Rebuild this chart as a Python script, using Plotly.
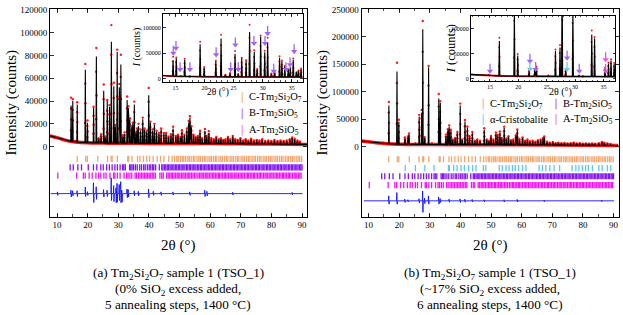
import numpy as np
import plotly.graph_objects as go

W, H = 623, 315
FONT = "Liberation Serif"

# ---------------- Panel (a): 0 % SiO2 excess ----------------
a_bg_x = [7.7, 10, 12, 14, 16, 20, 25, 30, 40, 50, 60, 70, 80, 91.6]
a_bg_y = [9500, 8000, 6300, 4900, 4200, 3500, 3200, 3000, 2900, 2800, 2700, 2500, 2300, 2000]
a_peak_x = [14.60, 15.15, 15.90, 16.60, 17.50, 19.25, 19.95, 21.95, 22.85, 23.60, 24.40, 25.25, 25.80,
            26.40, 27.15, 27.75, 28.55, 29.05, 29.65, 30.35, 30.85, 31.50, 32.05, 32.90, 33.30, 33.80,
            34.40, 34.75, 35.25, 35.80, 36.15, 36.60, 37.30, 38.00, 38.60, 39.30, 39.95, 40.50, 41.20,
            41.80, 42.50, 43.30, 44.00, 44.90, 45.6, 46.4, 47.2, 47.9, 48.8, 49.5, 50.3, 50.8, 51.6,
            52.4, 53.0, 53.4, 53.9, 54.6, 55.3, 56.0, 56.7, 57.4, 58.3, 58.9, 59.6, 60.4, 61.2, 62.0,
            62.8, 63.5, 64.3, 65.0, 65.8, 66.6, 67.4, 68.2, 69.0, 69.9, 70.8, 71.6, 72.5, 73.4, 74.3,
            75.2, 76.1, 77.0, 78.0, 79.0, 80.0, 81.0, 82.0, 83.0, 84.0, 85.0, 86.0, 86.8, 87.6, 88.5, 89.3]
a_peak_calc = [36000, 40000, 4500, 37000, 3500, 67500, 21000, 34000, 79000, 7000, 10000, 49000, 8000,
               40000, 35000, 92000, 53000, 18000, 83000, 52000, 72000, 9000, 11000, 41000, 34000, 24000,
               17000, 20000, 37000, 12000, 15000, 18000, 14000, 24000, 15000, 13000, 45000, 21000, 14000,
               19000, 13000, 11000, 15000, 11000, 11000, 8500, 10000, 16000, 9000, 10000, 8000, 13500, 10000,
               15000, 21000, 25500, 17000, 10000, 8000, 9000, 13000, 7000, 14000, 9000, 12000, 7000, 6000, 8000,
               6000, 7000, 5500, 6000, 8000, 6000, 9000, 6000, 5500, 7000, 5000, 6000, 5000, 6500, 5000,
               5500, 5000, 6000, 4500, 5000, 4500, 5500, 4500, 5000, 4500, 5000, 6000, 7500, 6500, 5000, 4000]
a_peak_obs = [43000, 41500, 5000, 39000, 4000, 72500, 23000, 35000, 86500, 7500, 11000, 54500, 9000,
              41000, 36500, 106500, 56000, 19000, 85000, 55000, 80500, 10000, 12500, 44000, 35500, 25000,
              18000, 21000, 39500, 12500, 16000, 20000, 15000, 25500, 16000, 14000, 51500, 22000, 15000,
              20000, 14000, 12000, 16000, 12000, 12000, 9000, 11000, 17500, 9500, 10500, 8500, 14500, 10500,
              16000, 22500, 27000, 18000, 10500, 8500, 9500, 14000, 7500, 15500, 9500, 13500, 7500, 6500, 8500,
              6500, 7500, 6000, 6500, 8500, 6500, 9500, 6500, 6000, 7500, 5500, 6500, 5500, 7000, 5500,
              6000, 5500, 6500, 5000, 5500, 5000, 6000, 5000, 5500, 5000, 5500, 6500, 8000, 7000, 5500, 4500]
a_diff_x = [10.2, 14.6, 15.15, 16.6, 19.3, 20.0, 21.95, 22.85, 25.25, 26.4, 27.75, 28.55, 29.3, 29.65,
            30.35, 30.85, 31.2, 32.9, 33.3, 35.25, 36.6, 39.95, 41.5, 44.0, 47.9, 53.4, 58.3, 59.0, 67.4, 86.8]
a_diff_up = [1500, 3000, 2500, 2500, 5800, 1700, 9500, 6000, 3500, 3000, 13800, 7000, 5000, 9000,
             8000, 10500, 3000, 4000, 3500, 2500, 2000, 4000, 2000, 1500, 1500, 1500, 3000, 2000, 1200, 1000]
a_diff_dn = [-1500, -3000, -2000, -2500, -2500, -1500, -7800, -5000, -3000, -2500, -6000, -7000, -8000, -7500,
             -6000, -8000, -7500, -3500, -3000, -2000, -2000, -3500, -1500, -1500, -1200, -1500, -2500, -2000, -1200, -1000]
a_arrow_x = [14.64, 15.1, 15.8, 17.5, 22.0, 24.5, 25.3, 25.8, 28.5, 30.4, 30.85, 31.9, 34.0, 34.7, 35.4]
a_arrow_y = [46700, 56400, 14400, 14400, 43600, 14400, 63000, 14400, 66000, 66000, 85600, 11000, 14400, 24100, 50000]
a_arrow_phase = ["B"] * 15

# ---------------- Panel (b): ~17 % SiO2 excess ----------------
b_bg_x = [7.7, 10, 12, 14, 16, 20, 30, 50, 70, 91.6]
b_bg_y = [10500, 9000, 7500, 6500, 5500, 4500, 4000, 3500, 3000, 2000]
b_peak_x = [14.9, 16.65, 19.30, 19.90, 21.90, 22.90, 23.20, 25.30, 26.55, 27.35, 27.72, 28.35, 29.62,
            30.70, 31.40, 32.95, 33.45, 35.30, 35.90, 36.35, 36.90, 37.50, 38.30, 39.00, 39.95, 40.60,
            41.50, 42.30, 43.00, 43.90, 44.70, 45.5, 46.4, 47.8, 48.6, 49.3, 50.0, 50.8, 51.6, 52.2, 52.9,
            53.5, 54.3, 55.0, 55.7, 56.5, 57.3, 58.1, 58.6, 59.3, 60.3, 61.1, 61.9, 62.7, 63.6, 64.5,
            65.3, 66.2, 67.0, 67.4, 68.3, 69.2, 70.2, 71.1, 72.0, 73.0, 74.0, 75.0, 76.0, 77.0, 78.0,
            79.0, 80.0, 81.0, 82.0, 83.0, 84.0, 85.2, 86.2, 87.0, 88.0, 89.0]
b_peak_calc = [6000, 75000, 137000, 46000, 15000, 17000, 22000, 5500, 55000, 62000, 214000, 16000, 144000,
               5500, 4500, 88000, 80000, 20000, 30000, 36000, 29000, 12000, 15000, 25000, 75000, 12000,
               46000, 35000, 18000, 25000, 10000, 12000, 10000, 31000, 12000, 10000, 18000, 12000, 24000, 20000, 26000,
               15000, 34000, 14000, 18000, 11000, 12000, 20000, 30000, 13000, 16000, 10000, 12000, 9000, 10000, 8000,
               11000, 12000, 15000, 17000, 8000, 7000, 8000, 6000, 7000, 6000, 6500, 5500, 6000, 7000, 5500,
               6000, 5000, 5500, 5000, 5500, 5000, 6000, 8000, 7000, 5500, 4500]
b_peak_obs = [7000, 81500, 153000, 49000, 17000, 18500, 24000, 6000, 58000, 67000, 229000, 17500, 147000,
              6000, 5000, 96000, 83000, 22000, 32000, 38500, 31000, 13000, 16000, 27000, 78500, 13000,
              48500, 37000, 19000, 27000, 11000, 13000, 11000, 33500, 13000, 11000, 19500, 13000, 26000, 21500, 28000,
              16000, 36500, 15000, 19000, 12000, 13000, 21000, 31500, 14000, 17000, 11000, 13000, 10000, 11000, 9000,
              12000, 13000, 16000, 18500, 9000, 7500, 8500, 6500, 7500, 6500, 7000, 6000, 6500, 7500, 6000,
              6500, 5500, 6000, 5500, 6000, 5500, 6500, 8500, 7500, 6000, 5000]
b_diff_x = [16.65, 19.3, 21.9, 22.9, 26.55, 27.72, 28.35, 29.62, 32.95, 33.45, 36.35, 39.95, 41.5, 43.9,
            47.8, 54.3, 58.6, 67.4, 86.2]
b_diff_up = [9000, 15000, 3000, 2000, 4000, 18000, 5000, 9000, 7000, 4000, 3000, 3500, 3000, 2500,
             2000, 2000, 2500, 1500, 1500]
b_diff_dn = [-6000, -6000, -3000, -2000, -4000, -21000, -5000, -6000, -6000, -3000, -2500, -3000, -2500, -2000,
             -2000, -2000, -2000, -1500, -1500]
b_arrow_x = [15.0, 22.05, 22.05, 23.05, 28.6, 28.6, 30.75, 35.4, 35.4]
b_arrow_y = [11200, 31000, 15200, 14600, 37500, 14600, 11200, 34300, 11200]
b_arrow_phase = ["B", "B", "Cr", "B", "B", "Cr", "B", "A", "A"]

# ---------------- Reflection positions (2θ, °) ----------------
refl_C = [16.6, 19.4, 19.9, 23.3, 26.5, 27.7, 28.0, 29.7, 33.1, 33.4, 34.5, 36.3, 37.1, 38.2, 39.3, 40.2,
          41.4, 42.7, 43.8, 44.9, 46.5, 47.6, 48.4, 49.1, 49.6, 50.3, 50.9, 51.4, 52.0, 52.7, 53.2, 53.8,
          54.5, 55.0, 55.7, 56.3, 56.8, 57.5, 58.1, 58.6, 59.3, 59.9, 60.4, 61.1, 61.7, 62.2, 62.9, 63.5,
          64.0, 64.7, 65.3, 65.8, 66.5, 67.1, 67.6, 68.3, 68.9, 69.4, 70.1, 70.7, 71.2, 71.9, 72.5, 73.0,
          73.7, 74.3, 74.8, 75.5, 76.1, 76.6, 77.3, 77.9, 78.4, 79.1, 79.7, 80.2, 80.9, 81.5, 82.0, 82.7,
          83.3, 83.8, 84.5, 85.1, 85.6, 86.3, 86.9, 87.4, 88.1, 88.7, 89.2, 89.9]
refl_B = [14.3, 15.3, 16.8, 18.0, 20.2, 21.9, 23.0, 24.3, 25.1, 26.2, 27.1, 28.0, 28.9, 29.7, 30.6, 31.4,
          31.8, 32.3, 33.7, 34.1, 34.5, 35.0, 35.6, 36.2, 37.0, 37.6, 38.3, 38.8, 39.5, 40.1, 40.6, 41.2,
          41.6, 42.2, 43.4, 44.2, 44.6, 45.1, 45.5, 46.0, 46.4, 46.9, 47.3, 47.8, 48.2, 48.7, 49.1, 49.6,
          50.0, 50.5, 50.9, 51.4, 51.8, 52.3, 52.7, 53.2, 53.6, 54.1, 54.5, 55.0, 55.4, 55.9, 56.3, 56.8,
          57.2, 57.7, 58.1, 58.6, 59.0, 59.5, 59.9, 60.4, 60.8, 61.3, 61.7, 62.2, 62.6, 63.1, 63.5, 64.0,
          64.4, 64.9, 65.3, 65.8, 66.2, 66.7, 67.1, 67.6, 68.0, 68.5, 68.9, 69.4, 69.8, 70.3, 70.7, 71.2,
          71.6, 72.1, 72.5, 73.0, 73.4, 73.9, 74.3, 74.8, 75.2, 75.7, 76.1, 76.6, 77.0, 77.5, 77.9, 78.4,
          78.8, 79.3, 79.7, 80.2, 80.6, 81.1, 81.5, 82.0, 82.4, 82.9, 83.3, 83.8, 84.2, 84.7, 85.1, 85.6,
          86.0, 86.5, 86.9, 87.4, 87.8, 88.3, 88.7, 89.2, 89.6, 90.0]
refl_A = [10.25, 16.4, 18.6, 19.2, 20.5, 21.5, 22.7, 23.6, 24.3, 25.3, 26.0, 27.3, 28.5, 28.9, 29.7, 30.6,
          31.9, 32.7, 33.2, 33.8, 34.4, 35.5, 36.0, 36.6, 37.1, 37.6, 38.1, 38.6, 39.1, 39.6, 40.1, 40.6,
          41.1, 41.6, 42.1, 43.6, 44.2, 44.7, 45.8, 46.3, 46.8, 47.3, 47.7, 48.2, 48.7, 49.2, 49.6, 50.1,
          50.6, 51.1, 51.5, 52.0, 52.5, 53.0, 53.4, 53.9, 54.4, 54.9, 55.4, 56.0, 56.5, 57.0, 57.4, 57.9,
          58.4, 58.9, 59.3, 59.8, 60.3, 60.8, 61.2, 61.7, 62.2, 62.7, 63.1, 63.6, 64.1, 64.6, 65.0, 65.5,
          66.0, 66.5, 66.9, 67.4, 67.9, 68.4, 68.8, 69.3, 69.8, 70.3, 70.7, 71.2, 71.7, 72.2, 72.6, 73.1,
          73.6, 74.1, 74.5, 75.0, 75.5, 76.0, 76.4, 76.9, 77.4, 77.9, 78.3, 78.8, 79.3, 79.8, 80.2, 80.7,
          81.2, 81.7, 82.1, 82.6, 83.1, 83.6, 84.0, 84.5, 85.0, 85.5, 85.9, 86.4, 86.9, 87.4, 87.8, 88.3,
          88.8, 89.3, 89.7]
refl_Cr = [22.0, 25.3, 28.4, 31.4, 36.1, 36.4, 37.8, 38.9, 40.2, 41.3, 42.7, 44.0, 45.1, 47.5, 48.3, 52.7,
           53.7, 54.9, 55.9, 57.0, 57.9, 59.0, 60.3, 61.4, 65.7, 66.8, 67.9, 69.2, 70.6, 72.4, 76.5, 77.7,
           78.7, 79.8, 80.9, 81.8, 83.1, 85.2, 86.3, 88.0, 89.1]

x_ticks_main = [10, 20, 30, 40, 50, 60, 70, 80, 90]
a_y_ticks = [0, 20000, 40000, 60000, 80000, 100000, 120000]
b_y_ticks = [0, 50000, 100000, 150000, 200000, 250000]
inset_x_ticks = [15, 20, 25, 30, 35]
inset_y_ticks = [0, 50000, 100000]

# ---------------- styles ----------------
COL = {"C": "#f2a56e", "B": "#8414f2", "A": "#f214f0", "Cr": "#62c4f6"}
COL_LEG = {"C": "#f7c9a6", "B": "#c39cf6", "A": "#f6a6f4", "Cr": "#a9dcf8"}
COL_ARROW = {"B": "#a263fa", "A": "#f04ee6", "Cr": "#6cc8fa"}


def profile(bg_x, bg_y, px, ph, w):
    pts = [(x, y) for x, y in zip(bg_x, bg_y) if all(abs(x - p) > w for p in px)]
    for p, h in zip(px, ph):
        b = float(np.interp(p, bg_x, bg_y))
        pts += [(p - w, b), (p, h), (p + w, b)]
    pts.sort(key=lambda q: q[0])
    return [q[0] for q in pts], [q[1] for q in pts]


def obs_points(bg_x, bg_y, px, ph):
    xs, ys = [], []
    for p, h in zip(px, ph):
        b = float(np.interp(p, bg_x, bg_y))
        xs += [p, p - 0.04, p + 0.04, p - 0.07]
        ys += [h, b + 0.75 * (h - b), b + 0.5 * (h - b), b + 0.25 * (h - b)]
    return xs, ys


def sticks(pos, center, half):
    xs, ys = [], []
    for p in pos:
        xs += [p, p, None]
        ys += [center - half, center + half, None]
    return xs, ys


def diff_line(x0, x1, base, dx, up, dn):
    xs, ys = [x0], [base]
    for p, u, d in zip(dx, up, dn):
        xs += [p - 0.15, p - 0.05, p + 0.05, p + 0.15]
        ys += [base, base + u, base + d, base]
    xs.append(x1)
    ys.append(base)
    return xs, ys


fig = go.Figure()


def add_pattern(xa, ya, bg_x, bg_y, px, pc, po, w, mk, bgw):
    fig.add_trace(go.Scatter(x=bg_x, y=bg_y, mode="lines", line=dict(color="#ff1010", width=bgw, shape="spline"),
                             xaxis=xa, yaxis=ya, hoverinfo="skip"))
    ox, oy = obs_points(bg_x, bg_y, px, po)
    fig.add_trace(go.Scatter(x=ox, y=oy, mode="markers", marker=dict(color="#ff1818", size=mk),
                             xaxis=xa, yaxis=ya, hoverinfo="skip"))
    cx, cy = profile(bg_x, bg_y, px, pc, w)
    fig.add_trace(go.Scatter(x=cx, y=cy, mode="lines", line=dict(color="black", width=1.1),
                             xaxis=xa, yaxis=ya, hoverinfo="skip"))


def add_arrows(xa, ya, ax_list, ay_list, phases, length):
    for ph in sorted(set(phases)):
        lx, ly, tx, ty = [], [], [], []
        for x, y, p in zip(ax_list, ay_list, phases):
            if p != ph:
                continue
            lx += [x, x, None]
            ly += [y + length, y + length * 0.3, None]
            tx.append(x)
            ty.append(y + length * 0.2)
        fig.add_trace(go.Scatter(x=lx, y=ly, mode="lines", line=dict(color=COL_ARROW[ph], width=1.3),
                                 xaxis=xa, yaxis=ya, hoverinfo="skip"))
        fig.add_trace(go.Scatter(x=tx, y=ty, mode="markers",
                                 marker=dict(symbol="triangle-down", size=5.5, color=COL_ARROW[ph],
                                             line=dict(width=0)),
                                 xaxis=xa, yaxis=ya, hoverinfo="skip"))


# ---- panel (a) main ----
add_pattern("x", "y", a_bg_x, a_bg_y, a_peak_x, a_peak_calc, a_peak_obs, 0.13, 2.4, 3.5)
for key, c in [("C", -10600), ("B", -18100), ("A", -25300)]:
    sx, sy = sticks({"C": refl_C, "B": refl_B, "A": refl_A}[key], c, 2700)
    fig.add_trace(go.Scatter(x=sx, y=sy, mode="lines", line=dict(color=COL[key], width=1.3),
                             xaxis="x", yaxis="y", hoverinfo="skip"))
dx_, dy_ = diff_line(7.9, 90.2, -41100, a_diff_x, a_diff_up, a_diff_dn)
fig.add_trace(go.Scatter(x=dx_, y=dy_, mode="lines", line=dict(color="#1010ff", width=0.9),
                         xaxis="x", yaxis="y", hoverinfo="skip"))
# ---- panel (a) inset ----
add_pattern("x2", "y2", a_bg_x, a_bg_y, a_peak_x, a_peak_calc, a_peak_obs, 0.1, 2, 1.8)
add_arrows("x2", "y2", a_arrow_x, a_arrow_y, a_arrow_phase, 18000)

# ---- panel (b) main ----
add_pattern("x3", "y3", b_bg_x, b_bg_y, b_peak_x, b_peak_calc, b_peak_obs, 0.13, 2.4, 3.5)
for key, c in [("C", -22760), ("Cr", -38900), ("B", -53760), ("A", -69900)]:
    sx, sy = sticks({"C": refl_C, "B": refl_B, "A": refl_A, "Cr": refl_Cr}[key], c, 5600)
    fig.add_trace(go.Scatter(x=sx, y=sy, mode="lines", line=dict(color=COL[key], width=1.3),
                             xaxis="x3", yaxis="y3", hoverinfo="skip"))
dx_, dy_ = diff_line(8.5, 90.2, -98560, b_diff_x, b_diff_up, b_diff_dn)
fig.add_trace(go.Scatter(x=dx_, y=dy_, mode="lines", line=dict(color="#1010ff", width=0.9),
                         xaxis="x3", yaxis="y3", hoverinfo="skip"))
# ---- panel (b) inset ----
add_pattern("x4", "y4", b_bg_x, b_bg_y, b_peak_x, b_peak_calc, b_peak_obs, 0.1, 2, 1.8)
add_arrows("x4", "y4", b_arrow_x, b_arrow_y, b_arrow_phase, 18500)


def fx(px):
    return px / W


def fy(py):
    return 1 - py / H


def axis(dom, rng, tickvals, size, ticklen, anchor, minor_dtick=None, fmt=None):
    d = dict(domain=dom, range=rng, tickvals=tickvals, ticks="inside", ticklen=ticklen, tickwidth=0.8,
             tickcolor="black", showline=True, linecolor="black", linewidth=1, mirror="allticks",
             showgrid=False, zeroline=False, anchor=anchor, fixedrange=True,
             tickfont=dict(family=FONT, size=size, color="black"))
    if fmt:
        d["tickformat"] = fmt
    if minor_dtick:
        d["minor"] = dict(ticks="inside", ticklen=ticklen * 0.55, dtick=minor_dtick, tickcolor="black",
                          tickwidth=0.7, showgrid=False)
    return d


annotations = []


def txt(px, py, text, size, **kw):
    d = dict(x=fx(px), y=fy(py), xref="paper", yref="paper", text=text, showarrow=False,
             font=dict(family=FONT, size=size, color="black"), xanchor="center", yanchor="middle")
    d.update(kw)
    annotations.append(d)


# axis titles
txt(11, 101, "Intensity (counts)", 15, textangle=-90)
txt(322, 101, "Intensity (counts)", 15, textangle=-90)
txt(178, 245, "2θ (°)", 15)
txt(490, 245, "2θ (°)", 15)
txt(218, 89.5, "2θ (°)", 9.5)
txt(560, 89.5, "2θ (°)", 10)
txt(137, 44, "<i>I</i> (counts)", 10, textangle=-90)
txt(451, 46, "<i>I</i> (counts)", 12.5, textangle=-90)

# legends
shapes = []


def leg(px, py, key, label, size):
    shapes.append(dict(type="line", xref="paper", yref="paper", x0=fx(px), x1=fx(px),
                       y0=fy(py + 5.5), y1=fy(py - 5.5), line=dict(color=COL_LEG[key], width=1.6)))
    txt(px + 5, py, label, size, xanchor="left")


LEG_SIZE = 10.5
leg(242.3, 95, "C", "C-Tm<sub>2</sub>Si<sub>2</sub>O<sub>7</sub>", LEG_SIZE)
leg(242.3, 111.7, "B", "B-Tm<sub>2</sub>SiO<sub>5</sub>", LEG_SIZE)
leg(242.3, 128.3, "A", "A-Tm<sub>2</sub>SiO<sub>5</sub>", LEG_SIZE)
leg(483.3, 101.7, "C", "C-Tm<sub>2</sub>Si<sub>2</sub>O<sub>7</sub>", LEG_SIZE)
leg(556, 101.7, "B", "B-Tm<sub>2</sub>SiO<sub>5</sub>", LEG_SIZE)
leg(483.3, 117.3, "Cr", "α-Cristobalite", LEG_SIZE)
leg(556, 117.3, "A", "A-Tm<sub>2</sub>SiO<sub>5</sub>", LEG_SIZE)

# captions
CAP = 13.2
txt(178, 273.5, "(a) Tm<sub>2</sub>Si<sub>2</sub>O<sub>7</sub> sample 1 (TSO_1)", CAP)
txt(178, 290, "(0% SiO<sub>2</sub> excess added,", CAP)
txt(178, 305.5, "5 annealing steps, 1400 °C)", CAP)
txt(490, 273.5, "(b) Tm<sub>2</sub>Si<sub>2</sub>O<sub>7</sub> sample 1 (TSO_1)", CAP)
txt(490, 290, "(~17% SiO<sub>2</sub> excess added,", CAP)
txt(490, 305.5, "6 annealing steps, 1400 °C)", CAP)

main_ydom = [fy(216), fy(5)]
fig.update_layout(
    width=W, height=H, margin=dict(l=0, r=0, t=0, b=0), showlegend=False,
    plot_bgcolor="white", paper_bgcolor="white",
    xaxis=axis([fx(50), fx(307)], [7.71, 91.63], x_ticks_main, 9, 4, "y", 5),
    yaxis=axis(main_ydom, [-61207, 120690], a_y_ticks, 9, 4, "x", None, "d"),
    xaxis2=axis([fx(163), fx(302.5)], [12.87, 36.84], inset_x_ticks, 6, 2.5, "y2", 1),
    yaxis2=axis([fy(79), fy(10.3)], [-6400, 127300], inset_y_ticks, 6, 2.5, "x2", None, "d"),
    xaxis3=axis([fx(361.5), fx(618.5)], [7.71, 91.63], x_ticks_main, 9, 4, "y3", 5),
    yaxis3=axis(main_ydom, [-127230, 250900], b_y_ticks, 9, 4, "x3", None, "d"),
    xaxis4=axis([fx(471), fx(615)], [11.65, 37.05], inset_x_ticks, 6, 2.5, "y4", 1),
    yaxis4=axis([fy(78.3), fy(11.7)], [-5100, 126200], inset_y_ticks, 6, 2.5, "x4", None, "d"),
    annotations=annotations, shapes=shapes,
)

fig.write_html("out.html", config={"displayModeBar": False, "staticPlot": True},
               post_script="document.body.style.margin='0px';")
